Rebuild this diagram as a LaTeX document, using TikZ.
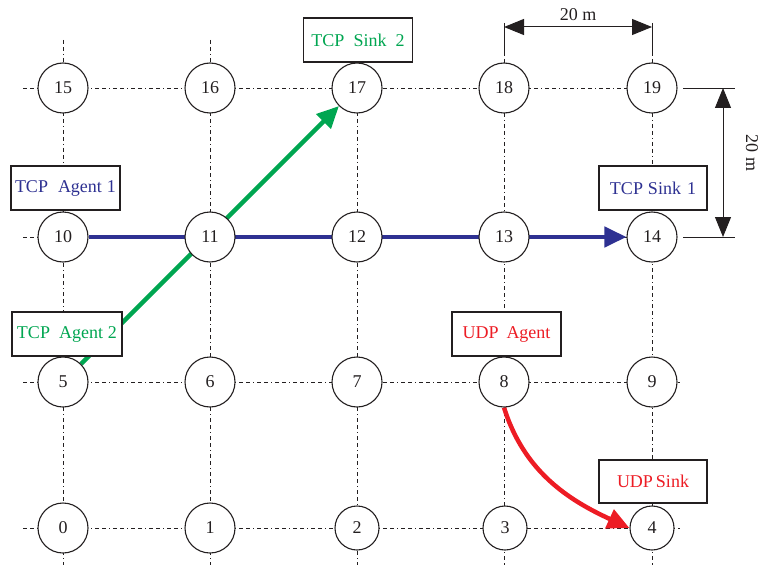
\documentclass[tikz,border=0pt]{standalone}
\usepackage{fontspec}
\setmainfont{Liberation Serif}
\usetikzlibrary{arrows.meta,backgrounds}
\definecolor{tblue}{HTML}{2E3192}
\definecolor{tgreen}{HTML}{00A651}
\definecolor{tred}{HTML}{ED1C24}
\definecolor{ink}{HTML}{231F20}
\begin{document}
\begin{tikzpicture}[x=1pt,y=-1pt,
  nd/.style={circle,draw=ink,line width=1.1pt,fill=white,minimum size=50pt,inner sep=0pt,font=\fontsize{18}{20}\selectfont,text=ink},
  ndsmall/.style={nd,minimum size=44pt},
  lbl/.style={draw=ink,line width=1.1pt,fill=white,minimum width=109pt,minimum height=44pt,inner sep=0pt,font=\fontsize{18}{20}\selectfont},
  gridline/.style={ink,line width=0.9pt,dash pattern=on 4pt off 3pt on 4pt off 3pt on 1pt off 3pt},
  extline/.style={ink,line width=0.9pt},
  flow/.style={line width=4.5pt,-{Triangle[length=22pt,width=20pt]}},
  dimarrow/.style={ink,line width=1pt,{Triangle[length=20pt,width=16pt]}-{Triangle[length=20pt,width=16pt]}},
  dimtext/.style={font=\fontsize{18}{20}\selectfont,text=ink,inner sep=0pt},
]
\useasboundingbox (0,0) rectangle (759,572);

% nodes
\node[nd] (n15) at (63,88) {15};
\node[nd] (n16) at (210,88) {16};
\node[nd] (n17) at (357,88) {17};
\node[nd] (n18) at (504,88) {18};
\node[nd] (n19) at (652,88) {19};
\node[nd] (n10) at (63,237) {10};
\node[nd] (n11) at (210,237) {11};
\node[nd] (n12) at (357,237) {12};
\node[nd] (n13) at (504,237) {13};
\node[nd] (n14) at (652,237) {14};
\node[nd] (n5) at (63,382) {5};
\node[nd] (n6) at (210,382) {6};
\node[nd] (n7) at (357,382) {7};
\node[nd] (n8) at (504,382) {8};
\node[nd] (n9) at (652,382) {9};
\node[nd] (n0) at (63,528) {0};
\node[nd] (n1) at (210,528) {1};
\node[ndsmall] (n2) at (357,528) {2};
\node[ndsmall] (n3) at (505,528) {3};
\node[ndsmall] (n4) at (652,528) {4};

% labels
\node[lbl,text=tgreen] (ls2) at (358,40) {TCP\hspace{9pt}Sink\hspace{9pt}2};
\node[lbl,text=tblue] (la1) at (65.5,188) {TCP\hspace{10pt}Agent\hspace{5pt}1};
\node[lbl,text=tblue,minimum width=108pt] (ls1) at (653,188) {TCP\hspace{5pt}Sink\hspace{6pt}1};
\node[lbl,text=tgreen,minimum width=110pt] (la2) at (67,334) {TCP\hspace{9pt}Agent\hspace{5pt}2};
\node[lbl,text=tred] (lua) at (506.5,334) {UDP\hspace{8pt}Agent};
\node[lbl,text=tred,minimum width=108pt,minimum height=43pt] (lus) at (653,481.5) {UDP\hspace{3pt}Sink};

\begin{scope}[on background layer]
  \foreach \yy in {382,528} \draw[gridline] (23,\yy) -- (680,\yy);
  \foreach \yy in {88,237} {
    \draw[gridline] (23,\yy) -- (652,\yy);
    \draw[extline] (683,\yy) -- (735,\yy);
  }
  \foreach \xx in {63,210,357} \draw[gridline] (\xx,40) -- (\xx,565);
  \foreach \xx in {504,652} {
    \draw[gridline] (\xx,52) -- (\xx,565);
    \draw[extline] (\xx,23) -- (\xx,52);
  }
  \draw[flow,tblue] (n10) -- (n14);
  \draw[flow,tgreen] (n5) -- (n17);
  \draw[flow,tred] (n8.south) .. controls +(20,64) and +(-61,-28) .. (n4.west);
\end{scope}

% dimensions
\coordinate (dh1) at (504,27);
\coordinate (dh2) at (652,27);
\draw[dimarrow] (dh1) -- (dh2);
\node[dimtext] (dht) at (578,15) {20 m};
\coordinate (dv1) at (723,88);
\coordinate (dv2) at (723,237);
\draw[dimarrow] (dv1) -- (dv2);
\node[dimtext,rotate=-90] (dvt) at (752,153) {20 m};
\end{tikzpicture}
\end{document}
